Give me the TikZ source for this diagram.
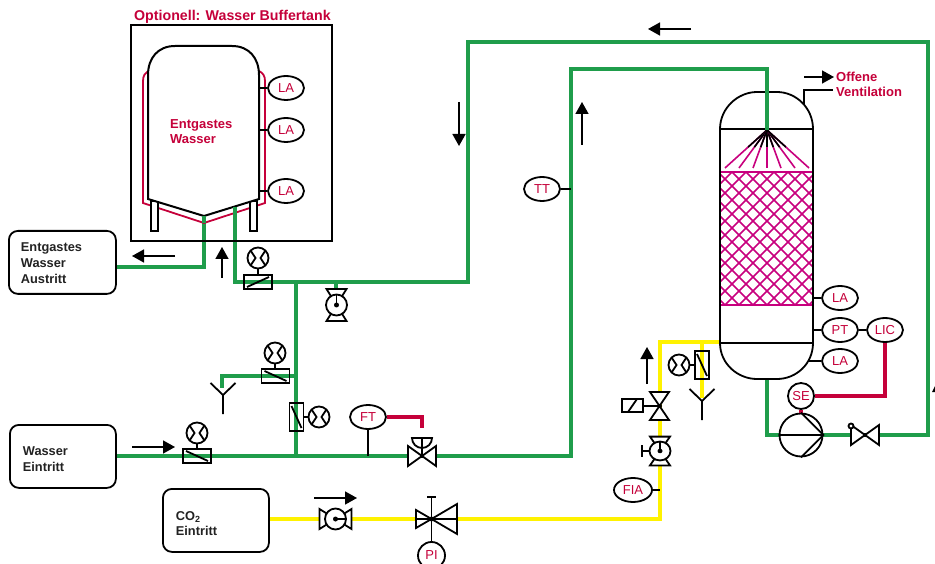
\documentclass[tikz,border=0pt]{standalone}
\usepackage{fontspec}
\setmainfont{Liberation Sans}
\usepackage{xcolor}
\usetikzlibrary{shapes.geometric,arrows.meta,calc}
\definecolor{pipegreen}{HTML}{1F9D4B}
\definecolor{pipeyellow}{HTML}{FFF200}
\definecolor{signalred}{HTML}{C5003A}
\definecolor{packpink}{HTML}{C8007E}
\definecolor{glowyellow}{HTML}{FFF4B8}
\definecolor{boxtext}{HTML}{222222}
\tikzset{
	water/.style={line width=3.6pt,pipegreen},
	gas/.style={line width=3.6pt,pipeyellow},
	signal/.style={line width=3.6pt,signalred},
	steel/.style={line width=1.8pt,black},
	flowarrow/.style={line width=1.6pt,black,-{Triangle[length=12pt,width=13pt]}},
	instr/.style={draw,steel,ellipse,fill=white,minimum width=36pt,minimum height=24pt,inner sep=0pt,
		text=signalred,font=\fontsize{13}{13}\selectfont},
	instrround/.style={draw,steel,circle,fill=white,minimum size=26pt,inner sep=0pt,
		text=signalred,font=\fontsize{13}{13}\selectfont},
	feedbox/.style={draw,steel,rounded corners=9pt,align=left,anchor=north west,inner ysep=0pt,
		text=boxtext,font=\bfseries\fontsize{12.8}{16}\selectfont},
	redlabel/.style={text=signalred,align=left,anchor=west,inner sep=0pt,
		font=\bfseries\fontsize{13}{15}\selectfont},
	pics/gauge/.style={code={
		\draw[steel,fill=white] (0,0) circle (10.5);
		\draw[steel] (-7.4,-7.4) -- (-2.5,0) -- (-7.4,7.4) (7.4,-7.4) -- (2.5,0) -- (7.4,7.4);
	}},
	pics/flowbox/.style={code={
		\draw[steel] (-14,-7) rectangle (14,7);
		\draw[steel] (-11,5) -- (11,-5);
	}},
	pics/hourglass/.style={code={
		\draw[steel,fill=white] (-10,-16) -- (10,-16) -- (-10,16) -- (10,16) -- cycle;
		\draw[steel,fill=white] (0,0) circle (10.5);
		\draw[steel] (0,-10.5) -- (0,0);
		\fill (0,0) circle (2.5);
	}},
	pics/bowtie/.style={code={
		\draw[steel,fill=white] (-14,-10) -- (14,10) -- (14,-10) -- (-14,10) -- cycle;
		\fill (0,0) circle (2);
	}},
	pics/funnel/.style={code={
		\draw[steel] (-12.5,-12) -- (0,0) -- (12.5,-12) (0,0) -- (0,19);
	}},
}

\begin{document}
\begin{tikzpicture}[x=1pt,y=-1pt]
		\clip (0,0) rectangle (935,564);
		\fill[white] (0,0) rectangle (935,564);

		% faint bands at the top
		\shade[left color=white,middle color=glowyellow,right color=white] (30,0) rectangle (470,4);
		\shade[left color=white,middle color=glowyellow,right color=white] (0,13) rectangle (440,21);
		\shade[left color=white,middle color=glowyellow,right color=white] (0,30) rectangle (430,35);

		\coordinate (TankLow)    at (204,216);
		\coordinate (TankOutA)   at (204,267);
		\coordinate (TankIn)     at (235,207);
		\coordinate (TankInB)    at (235,282);
		\coordinate (Tee)        at (296,282);
		\coordinate (TeeLow)     at (296,456);
		\coordinate (RiseA)      at (468,282);
		\coordinate (RiseB)      at (468,42);
		\coordinate (RimA)       at (928,42);
		\coordinate (RimB)       at (928,435);
		\coordinate (FeedA)      at (571,456);
		\coordinate (FeedB)      at (571,69);
		\coordinate (FeedC)      at (767,69);
		\coordinate (Spray)      at (767,130);
		\coordinate (SumpOut)    at (767,379);
		\coordinate (SumpCorner) at (767,435);
		\coordinate (DrainTee)   at (296,376);
		\coordinate (DrainCorner) at (222,376);
		\coordinate (DrainEnd)   at (222,388);
		\coordinate (PumpStub)   at (336,282);
		\coordinate (PumpStubEnd) at (336,292);
		\coordinate (GasA)       at (660,519);
		\coordinate (GasB)       at (660,342);
		\coordinate (GasC)       at (720,342);
		\coordinate (GasTee)     at (702,342);
		\coordinate (GasEnd)     at (702,398);

		% boxes
		\node[feedbox,minimum width=107pt,minimum height=63pt,text width=83pt,inner xsep=12pt] (Austritt) at (8,230)
			{\rule{0pt}{11pt}Entgastes\\Wasser\\Austritt};
		\node[feedbox,minimum width=106pt,minimum height=63pt,text width=80pt,inner xsep=13pt] (Eintritt) at (9,424)
			{\rule{0pt}{15pt}Wasser\\Eintritt};
		\node[feedbox,minimum width=106pt,minimum height=63pt,text width=80pt,inner xsep=13pt,font=\bfseries\fontsize{12.8}{15}\selectfont] (CoEintritt) at (162,488)
			{\rule{0pt}{15pt}CO\textsubscript{2}\\Eintritt};

		% pipes
		\draw[water] (TankLow) -- (TankOutA) -- (TankOutA -| Austritt.east);
		\draw[water] (TankIn) -- (TankInB) -- (RiseA) -- (RiseB) -- (RimA) -- (RimB) -- (SumpCorner) -- (SumpOut);
		\draw[water] (Tee) -- (TeeLow);
		\draw[water] (Eintritt.east |- TeeLow) -- (FeedA) -- (FeedB) -- (FeedC) -- (Spray);
		\draw[water] (DrainTee) -- (DrainCorner) -- (DrainEnd);
		\draw[water] (PumpStub) -- (PumpStubEnd);
		\draw[gas] (CoEintritt.east |- GasA) -- (GasA) -- (GasB) -- (GasC);
		\draw[gas] (GasTee) -- (GasEnd);

		% buffer tank
		\draw[steel] (131,25) rectangle (332,241);
		\node[redlabel,font=\bfseries\fontsize{14.2}{15}\selectfont] (TankTitle) at (134,17) {Optionell: Wasser Buffertank};
		\draw[line width=1.8pt,signalred] (148,71) .. controls (145,73) and (143,76) .. (143,81) -- (143,203) -- (204,223)
			-- (265,203) -- (265,81) .. controls (265,76) and (263,73) .. (259,71);
		\draw[steel,fill=white] (151,201) rectangle (158,231);
		\draw[steel,fill=white] (250,201) rectangle (257,231);
		\draw[line width=2pt,black,fill=white] (148,199) -- (148,75) .. controls (148,58) and (158,46) .. (175,46) -- (232,46)
			.. controls (249,46) and (259,58) .. (259,75) -- (259,199) -- (204,216) -- cycle;
		\draw[water] (TankLow) -- (204,223);
		\draw[water] (TankIn) -- (235,223);
		\node[redlabel] (TankText) at (170,132) {Entgastes\\Wasser};
		\foreach \name/\y in {LaOne/88,LaTwo/130,LaThree/191}{% level alarms on the tank
			\node[instr] (\name) at (286,\y) {LA};
			\coordinate (\name Wall) at (259,\y);
			\draw[steel] (\name Wall) -- (\name);
		}

		% packing and spray in the column
		\begin{scope}
			\clip (720,172) rectangle (813,305);
			\foreach \k in {0,1,...,17}{% crossed lines of the packing
				\draw[line width=1.7pt,packpink] (711+14*\k,165) -- ++(-150,150);
				\draw[line width=1.7pt,packpink] (711+14*\k-140,165) -- ++(150,150);
			}
		\end{scope}
		\draw[line width=1.7pt,packpink] (720,172) -- (813,172) (720,305) -- (813,305);
		\foreach \x in {725,739,753,767,781,795,809}{%
			\draw[line width=1.6pt,packpink] (Spray) -- (\x,168);
			\draw[line width=1.6pt,black] (Spray) -- ($(Spray)!0.45!(\x,168)$);
		}
		\fill (Spray) circle (2);

		% column
		\draw[steel] (720,343) -- (720,129) .. controls (720,108) and (738,92) .. (757,92) -- (777,92)
			.. controls (796,92) and (813,108) .. (813,129) -- (813,343)
			.. controls (813,364) and (796,379) .. (777,379) -- (757,379) .. controls (738,379) and (720,364) .. (720,343) -- cycle;
		\draw[steel] (720,129) -- (813,129) (720,343) -- (813,343);
		\draw[water] (FeedC) -- (Spray);
		\coordinate (VentA) at (804,104);
		\coordinate (VentB) at (804,90);
		\coordinate (VentC) at (833,90);
		\draw[steel] (VentA) -- (VentB) -- (VentC);
		\node[redlabel] (VentText) at (836,84) {Offene\\Ventilation};
		\coordinate (VentArrowA) at (804,77);
		\coordinate (VentArrowB) at (834,77);
		\draw[flowarrow] (VentArrowA) -- (VentArrowB);

		% instruments on the column
		\node[instr] (LaTop) at (840,298) {LA};
		\node[instr] (PtOne) at (840,330) {PT};
		\node[instr] (LicOne) at (885,330) {LIC};
		\node[instr] (LaLow) at (840,361) {LA};
		\coordinate (WallA) at (813,298);
		\coordinate (WallB) at (813,330);
		\coordinate (WallC) at (808,361);
		\draw[steel] (WallA) -- (LaTop);
		\draw[steel] (WallB) -- (PtOne);
		\draw[steel] (PtOne) -- (LicOne);
		\draw[steel] (WallC) -- (LaLow);
		\node[instr] (TtOne) at (542,189) {TT};
		\coordinate (TtPipe) at (571,189);
		\draw[steel] (TtOne) -- (TtPipe);

		% pump and speed loop
		\node[instrround] (SeOne) at (801,396) {SE};
		\node[draw,steel,circle,fill=white,minimum size=43pt,inner sep=0pt] (PumpOne) at (801,435) {};
		\draw[signal] (LicOne.south) -- (LicOne.south |- SeOne) -- (SeOne.east);
		\draw[signal] (SeOne.south) -- (PumpOne.north);
		\draw[steel] (PumpOne.west) -- (PumpOne.east) (PumpOne.north) -- (PumpOne.east) -- (PumpOne.south);
		\pic at (865,435) {bowtie};
		\draw[steel,fill=white] (851,426) circle (2.5);

		% lower water part
		\pic at (258,282) {flowbox};
		\pic at (258,258) {gauge};
		\draw[steel] (258,268.5) -- (258,275);
		\pic at (336.5,305) {hourglass};
		\pic[xscale=-1] at (275.5,376) {flowbox};
		\pic at (275,353) {gauge};
		\draw[steel] (275,363.5) -- (275,369);
		\pic[rotate=-90] at (296.5,417) {flowbox};
		\pic at (319,417) {gauge};
		\draw[steel] (303.5,417) -- (308.5,417);
		\pic[xscale=-1] at (197,456) {flowbox};
		\pic at (197,433) {gauge};
		\draw[steel] (197,443.5) -- (197,449);
		\pic at (223,395) {funnel};

		\node[instr] (FtOne) at (368,417) {FT};
		\coordinate (FtPipe) at (368,456);
		\draw[steel] (FtOne) -- (FtPipe);
		\coordinate (ValveTop) at (422,428);
		\coordinate (ValveLow) at (422,456);
		\draw[signal] (FtOne.east) -- (FtOne.east -| ValveTop) -- (ValveTop);
		\draw[steel,fill=white] (412,438) arc[start angle=180,end angle=0,radius=10] -- cycle;
		\draw[steel] (422,438) -- (ValveLow);
		\pic at (ValveLow) {bowtie};

		% gas part
		\pic[rotate=-90] at (335.5,519) {hourglass};
		\draw[steel,fill=white] (416,510) -- (431.5,519) -- (416,528) -- cycle;
		\draw[steel,fill=white] (457,504) -- (431.5,519) -- (457,534) -- cycle;
		\draw[steel] (416,519) -- (457,519);
		\node[instrround,minimum size=27pt] (PiOne) at (431.5,555.5) {PI};
		\coordinate (GasStemTop) at (431.5,497);
		\draw[steel] (GasStemTop) -- (PiOne);
		\draw[steel] (427,497) -- (436,497);
		\fill (431.5,519) circle (2.5);

		\pic[rotate=-90] at (702,365) {flowbox};
		\pic at (679,365) {gauge};
		\draw[steel] (689.5,365) -- (695,365);
		\pic at (702,401) {funnel};
		\draw[steel,fill=white] (650,392) -- (669,392) -- (650,420) -- (669,420) -- cycle;
		\fill (660,406) circle (2);
		\draw[steel] (622,399) rectangle (643,412);
		\draw[steel] (628,412) -- (637,399);
		\draw[steel] (643,406) -- (660,406);
		\pic[rotate=0,yscale=0.9] at (660,451) {hourglass};
		\draw[steel] (642,451) -- (649.5,451) (642,445) -- (642,457);
		\node[instr,minimum width=38pt] (FiaOne) at (633,490) {FIA};
		\coordinate (FiaPipe) at (660,490);
		\draw[steel] (FiaOne) -- (FiaPipe);

		% flow arrows
		\draw[flowarrow] (175,256) -- (132,256);
		\draw[flowarrow] (222,278) -- (222,247);
		\draw[flowarrow] (691,29) -- (648,29);
		\draw[flowarrow] (459,102) -- (459,146);
		\draw[flowarrow] (582,145) -- (582,102);
		\draw[flowarrow] (132,447) -- (175,447);
		\draw[flowarrow] (314,498) -- (357,498);
		\draw[flowarrow] (647,384) -- (647,347);
		\fill (932,392) -- (936,384) -- (940,392) -- cycle;
\end{tikzpicture}
\end{document}
